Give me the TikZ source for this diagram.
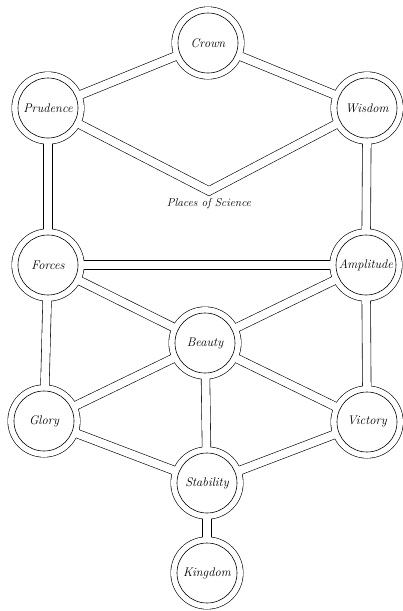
\documentclass[tikz,border=0pt]{standalone}
\begin{document}
\begin{tikzpicture}[x=1pt,y=-1pt]
\tikzset{
  chanout/.style={line width=9.2pt, black, line join=miter},
  chanin/.style={line width=8pt, white, line join=miter},
  ringout/.style={fill=black},
  ringin/.style={fill=white},
  sephnode/.style={circle, draw=black, line width=0.6pt, minimum size=60pt, inner sep=0pt,
    font=\itshape\fontsize{12.5}{14}\selectfont},
  lbl/.style={font=\itshape\fontsize{11.5}{13}\selectfont}
}
\useasboundingbox[fill=white] (0,0) rectangle (403,611);
\coordinate (crown) at (208,43);
\coordinate (prudence) at (48,108);
\coordinate (wisdom) at (367,108);
\coordinate (apex) at (209,191);
\coordinate (forces) at (48,265);
\coordinate (amplitude) at (366,265);
\coordinate (beauty) at (205,343);
\coordinate (glory) at (44,421);
\coordinate (victory) at (367,422);
\coordinate (stability) at (207,483);
\coordinate (kingdom) at (207,573);
\def\edges{crown/prudence, crown/wisdom, prudence/forces, wisdom/amplitude, forces/amplitude, forces/beauty, amplitude/beauty, forces/glory, amplitude/victory, beauty/glory, beauty/victory, beauty/stability, glory/stability, victory/stability, stability/kingdom}
\def\nodes{crown, prudence, wisdom, forces, amplitude, beauty, glory, victory, stability, kingdom}
% outer lines of channels
\foreach \a/\b in \edges { \draw[chanout] (\a) -- (\b); }
\draw[chanout] (prudence) -- (apex) -- (wisdom);
% outer rings
\foreach \n in \nodes { \fill[ringout] (\n) circle (36.5); }
% channel interiors
\foreach \a/\b in \edges { \draw[chanin] (\a) -- (\b); }
\draw[chanin] (prudence) -- (apex) -- (wisdom);
% clear ring interiors
\foreach \n in \nodes { \fill[ringin] (\n) circle (35.9); }
% inner circles with names
\node[sephnode] (crownN) at (crown) {Crown};
\node[sephnode] (prudenceN) at (prudence) {Prudence};
\node[sephnode] (wisdomN) at (wisdom) {Wisdom};
\node[sephnode] (forcesN) at (forces) {Forces};
\node[sephnode] (amplitudeN) at (amplitude) {Amplitude};
\node[sephnode] (beautyN) at (beauty) {Beauty};
\node[sephnode] (gloryN) at (glory) {Glory};
\node[sephnode] (victoryN) at (victory) {Victory};
\node[sephnode] (stabilityN) at (stability) {Stability};
\node[sephnode] (kingdomN) at (kingdom) {Kingdom};
\node[lbl] (places) at (209,204) {Places of Science};
\end{tikzpicture}
\end{document}
